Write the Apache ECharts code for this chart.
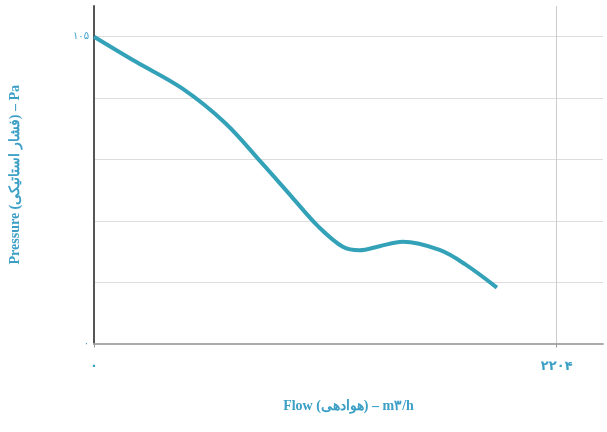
<!DOCTYPE html>
<html><head><meta charset="utf-8">
<script src="https://cdn.jsdelivr.net/npm/echarts@6/dist/echarts.min.js"></script>
<style>html,body{margin:0;padding:0;background:#fff}#c{width:607px;height:432px}</style>
</head><body><div id="c"></div>
<script>
const flowValues = [0, 200, 420, 626, 800, 942, 1069, 1187, 1265, 1360, 1470, 1646, 1772, 1919];
const pressureValues = [105, 96.4, 87.3, 75.4, 61.7, 50.2, 40.0, 33.0, 31.9, 33.3, 34.8, 32.0, 26.9, 19.1];
const xTickLabels = { 0: '۰', 2204: '۲۲۰۴' };
const yTickLabels = { 0: '۰', 105: '۱۰۵' };
const xAxisName = 'Flow (هوادهی) – m۳/h';
const yAxisName = 'Pressure (فشار استاتیکی) – Pa';
const xMaxTick = 2204, yMaxTick = 105, yStep = 21;

const data = flowValues.map((f, i) => [f, pressureValues[i]]);
const chart = echarts.init(document.getElementById('c'));
const txt = '#3b9fc6';
chart.setOption({
  animation: false,
  grid: { left: 93, right: 4, top: 6, bottom: 88.5, containLabel: false },
  xAxis: {
    type: 'value', min: 0, max: xMaxTick * 1.1, interval: xMaxTick,
    name: xAxisName, nameLocation: 'middle', nameGap: 56,
    nameTextStyle: { color: txt, fontFamily: 'Liberation Serif', fontWeight: 'bold', fontSize: 14 },
    axisLine: { show: true, lineStyle: { color: '#aaa', width: 2 } },
    axisTick: { show: true, length: 4, lineStyle: { color: '#999' } },
    axisLabel: { showMaxLabel: false, margin: 17, color: txt, fontWeight: 'bold', fontSize: 13, fontFamily: 'DejaVu Sans',
      formatter: v => xTickLabels[v] !== undefined ? xTickLabels[v] : '' },
    splitLine: { show: true, showMinLine: false, showMaxLine: false, lineStyle: { color: '#ccc' } }
  },
  yAxis: {
    type: 'value', min: 0, max: yMaxTick * 1.1, interval: yStep,
    name: yAxisName, nameLocation: 'middle', nameGap: 72, nameRotate: 90,
    nameTextStyle: { color: txt, fontFamily: 'Liberation Serif', fontWeight: 'bold', fontSize: 14 },
    axisLine: { show: true, lineStyle: { color: '#555', width: 2 } },
    axisTick: { show: false },
    axisLabel: { showMaxLabel: false, margin: 5, color: txt, fontSize: 10, fontFamily: 'DejaVu Sans',
      formatter: v => yTickLabels[v] !== undefined ? yTickLabels[v] : '' },
    splitLine: { show: true, showMinLine: false, showMaxLine: false, lineStyle: { color: '#ddd' } }
  },
  series: [{
    type: 'line', data: data, smooth: 0.35, symbol: 'none',
    lineStyle: { color: '#33a2b8', width: 4 }
  }]
});
</script></body></html>
